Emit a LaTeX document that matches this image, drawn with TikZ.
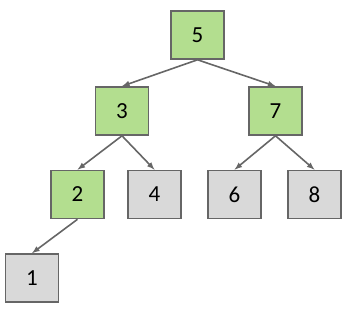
\documentclass[tikz,border=0pt]{standalone}
\usepackage{fontspec}
\setmainfont{Carlito}
\definecolor{leafgreen}{HTML}{B3DE8F}
\definecolor{boxgray}{HTML}{D9D9D9}
\definecolor{edgegray}{HTML}{666666}
\tikzset{
  keybox/.style={draw=edgegray, line width=1.6pt, minimum width=53pt, minimum height=48pt,
    inner sep=0pt, font=\fontsize{23}{27}\selectfont},
  onpath/.style={keybox, fill=leafgreen},
  offpath/.style={keybox, fill=boxgray},
  link/.style={draw=edgegray, line width=1.6pt, -latex}
}
\begin{document}
\begin{tikzpicture}[x=1pt,y=1pt]
\useasboundingbox (0,0) rectangle (351,310);
\node[onpath] (n5) at (197.5,275) {5};
\node[onpath] (n3) at (122,199) {3};
\node[onpath] (n7) at (275.5,199) {7};
\node[onpath] (n2) at (77.5,115.5) {2};
\node[offpath] (n4) at (154.5,115.5) {4};
\node[offpath] (n6) at (234.5,115.5) {6};
\node[offpath] (n8) at (314.5,115.5) {8};
\node[offpath] (n1) at (32,32) {1};
\draw[link] (n5.south) -- (n3.north);
\draw[link] (n5.south) -- (n7.north);
\draw[link] (n3.south) -- (n2.north);
\draw[link] (n3.south) -- (n4.north);
\draw[link] (n7.south) -- (n6.north);
\draw[link] (n7.south) -- (n8.north);
\draw[link] (n2.south) -- (n1.north);
\end{tikzpicture}
\end{document}
